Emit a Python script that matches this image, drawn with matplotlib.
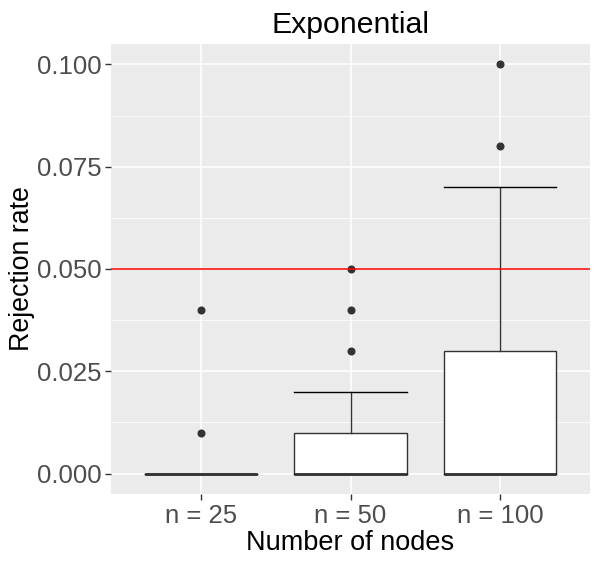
import numpy as np
import matplotlib
matplotlib.use("Agg")
import matplotlib.pyplot as plt

plt.rcParams['font.family'] = ['Liberation Sans', 'DejaVu Sans']

# box statistics for each group (rejection rates)
groups = ["n = 25", "n = 50", "n = 100"]
q1 = [0.0, 0.0, 0.0]
med = [0.0, 0.0, 0.0]
q3 = [0.0, 0.01, 0.03]
whislo = [0.0, 0.0, 0.0]
whishi = [0.0, 0.02, 0.07]
fliers = [[0.01, 0.04], [0.03, 0.04, 0.05], [0.08, 0.10]]

stats = []
for i in range(len(groups)):
    stats.append(dict(label=groups[i], q1=q1[i], med=med[i], q3=q3[i],
                      whislo=whislo[i], whishi=whishi[i], fliers=fliers[i]))

fig = plt.figure(figsize=(6.0, 5.65), dpi=100)
ax = fig.add_axes([111/600, 1-494/565, 479/600, 450/565])
ax.set_facecolor('#EBEBEB')

yt = [0.0, 0.025, 0.05, 0.075, 0.1]
ymin = [0.0125, 0.0375, 0.0625, 0.0875]
for y in yt:
    ax.axhline(y, color='white', lw=1.1, zorder=0)
for y in ymin:
    ax.axhline(y, color='white', lw=0.55, zorder=0)
for x in range(1, 4):
    ax.axvline(x, color='white', lw=1.1, zorder=0)

ax.bxp(stats, positions=[1, 2, 3], widths=0.75, patch_artist=True,
       boxprops=dict(facecolor='white', edgecolor='#333333', lw=1.0),
       medianprops=dict(color='#333333', lw=2.0),
       whiskerprops=dict(color='#333333', lw=1.0),
       capprops=dict(color='black', lw=1.0), capwidths=0.75,
       flierprops=dict(marker='o', markerfacecolor='#333333', markeredgecolor='#333333',
                       markersize=4.8, linestyle='none'),
       zorder=2)

ax.axhline(0.05, color='#FF0000', lw=1.1, zorder=3)

ax.set_xlim(0.4, 3.6)
ax.set_ylim(-0.005, 0.105)
ax.set_yticks(yt)
ax.set_yticklabels(["0.000", "0.025", "0.050", "0.075", "0.100"])
ax.set_xticks([1, 2, 3])
ax.set_xticklabels(groups)
ax.tick_params(axis='both', colors='#333333', labelcolor='#4D4D4D', labelsize=18.5,
               length=4, width=1.0, pad=3)
for s in ax.spines.values():
    s.set_visible(False)

ax.set_xlabel("Number of nodes", fontsize=19.5, labelpad=2)
ax.set_ylabel("Rejection rate", fontsize=19.3, labelpad=1)
ax.set_title("Exponential", fontsize=21.8, pad=8)

fig.savefig("out.png", dpi=100)
